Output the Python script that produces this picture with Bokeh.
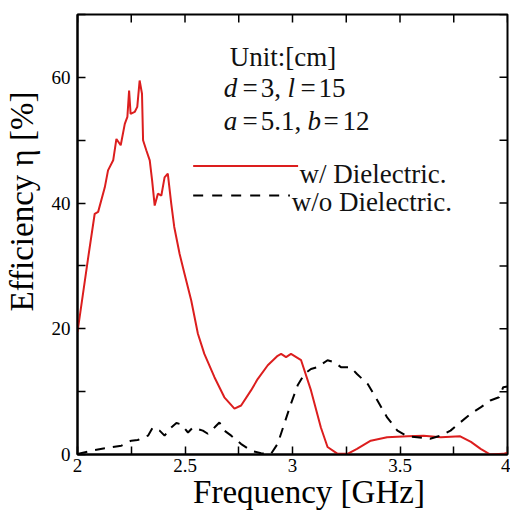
import math
from bokeh.plotting import figure
from bokeh.models import Range1d, FixedTicker, Label
from bokeh.embed import file_html
from bokeh.resources import INLINE

# ---- data ----
freq_with = [2.00, 2.05, 2.08, 2.096, 2.127, 2.142, 2.166, 2.181, 2.201, 2.22, 2.232, 2.24, 2.247,
             2.266, 2.278, 2.289, 2.30, 2.305, 2.32, 2.336, 2.347, 2.359, 2.374, 2.39, 2.405, 2.42,
             2.436, 2.45, 2.475, 2.498, 2.529, 2.56, 2.59, 2.637, 2.683, 2.73, 2.761, 2.807, 2.838,
             2.885, 2.931, 2.947, 2.97, 2.993, 3.008, 3.04, 3.086, 3.132, 3.163, 3.21, 3.256, 3.30,
             3.364, 3.44, 3.535, 3.61, 3.69, 3.78, 3.83, 3.875, 3.92, 3.98, 4.0]
eff_with = [19.5, 31.4, 38.3, 38.6, 42.5, 45.2, 46.8, 50.2, 49.2, 52.6, 53.7, 57.9, 54.2,
            54.5, 55.3, 59.5, 57.4, 50.0, 48.4, 46.8, 43.6, 39.6, 41.5, 41.2, 44.1, 44.7,
            39.9, 36.2, 31.9, 28.7, 24.5, 19.2, 16.0, 12.3, 9.1, 7.3, 7.8, 10.2, 12.0,
            14.2, 15.7, 16.0, 15.5, 16.0, 15.7, 15.0, 10.2, 4.3, 1.2, 0.1, 0.1, 0.9,
            2.2, 2.75, 2.9, 3.0, 2.75, 2.9, 2.0, 0.9, 0.0, 0.1, 0.3]

freq_without = [2.0, 2.065, 2.127, 2.204, 2.25, 2.28, 2.328, 2.35, 2.382, 2.405, 2.436, 2.46, 2.483,
                2.514, 2.537, 2.583, 2.606, 2.637, 2.66, 2.683, 2.715, 2.76, 2.807, 2.854, 2.9,
                2.931, 2.962, 2.993, 3.024, 3.055, 3.086, 3.117, 3.163, 3.194, 3.225, 3.27, 3.30,
                3.35, 3.395, 3.44, 3.488, 3.535, 3.58, 3.64, 3.69, 3.735, 3.78, 3.83, 3.875, 3.92,
                3.96, 3.98, 4.0]
eff_without = [0.1, 0.6, 1.0, 1.4, 2.2, 2.3, 3.0, 4.3, 3.8, 3.0, 4.3, 5.0, 4.8,
               3.5, 4.3, 3.8, 3.3, 4.3, 5.1, 3.8, 3.0, 1.7, 0.6, 0.2, 0.1,
               1.7, 4.9, 8.1, 11.0, 12.8, 13.6, 13.9, 15.0, 14.7, 13.9, 13.9, 12.8,
               11.2, 8.6, 5.9, 3.8, 2.9, 2.75, 2.5, 3.0, 3.8, 5.1, 6.5, 7.5, 8.6,
               9.1, 10.7, 10.8]

x_major = [2, 2.5, 3, 3.5, 4]
x_minor = [2.25, 2.75, 3.25, 3.75]
x_labels = ["2", "2.5", "3", "3.5", "4"]
y_major = [0, 20, 40, 60]
y_minor = [10, 30, 50, 70]

series_names = ["w/ Dielectric.", "w/o Dielectric."]
x_title = "Frequency [GHz]"
y_title = "Efficiency η [%]"

FONT = "Liberation Serif"
RED = "#dc1e1e"
NB = "\u00a0"

x_lo, x_hi = 2, 4
y_lo, y_hi = 0, 70

p = figure(width=510, height=512, output_backend="svg", toolbar_location=None,
           x_range=Range1d(x_lo, x_hi), y_range=Range1d(y_lo, y_hi),
           min_border_left=76, min_border_right=3, min_border_top=14, min_border_bottom=0)
p.xgrid.visible = False
p.ygrid.visible = False
p.outline_line_color = "black"
p.outline_line_width = 2
p.background_fill_color = "white"
p.border_fill_color = "white"

def style_axis(ax, ticks, minor):
    ax.ticker = FixedTicker(ticks=ticks, minor_ticks=minor)
    ax.major_tick_in = 8
    ax.major_tick_out = 0
    ax.minor_tick_in = 8
    ax.minor_tick_out = 0
    ax.major_tick_line_width = 1.5
    ax.minor_tick_line_width = 1.5
    ax.axis_line_width = 2
    ax.axis_line_color = "black"
    ax.major_tick_line_color = "black"
    ax.minor_tick_line_color = "black"
    ax.major_label_text_font = FONT
    ax.major_label_text_font_size = "19px"
    ax.major_label_text_color = "black"
    ax.axis_label_text_font = FONT
    ax.axis_label_text_font_size = "33px"
    ax.axis_label_text_font_style = "normal"
    ax.axis_label_text_color = "black"

xa = p.xaxis[0]
style_axis(xa, x_major, x_minor)
xa.major_label_overrides = {t: s for t, s in zip(x_major, x_labels)}
xa.major_label_standoff = 4
xa.axis_label = NB * 4 + x_title          # reference title sits right of centre
xa.axis_label_standoff = -1

ya = p.yaxis[0]
style_axis(ya, y_major, y_minor)
ya.major_label_standoff = 7
ya.axis_label = NB * 8 + y_title          # reference title sits above centre
ya.axis_label_standoff = 9

# inward ticks on the top and right edges of the frame
p.ray(x=x_major + x_minor, y=[y_hi] * 9, length=8, length_units="screen",
      angle=-math.pi / 2, line_color="black", line_width=1.5)
p.ray(x=[x_hi] * 8, y=y_major + y_minor, length=8, length_units="screen",
      angle=math.pi, line_color="black", line_width=1.5)

p.line(freq_with, eff_with, line_color=RED, line_width=2)
p.line(freq_without, eff_without, line_color="black", line_width=2, line_dash="10 8")

# legend drawn by hand
p.line([2.538, 3.026], [45.9, 45.9], line_color=RED, line_width=2)
p.line([2.538, 2.988], [41.2, 41.2], line_color="black", line_width=2, line_dash="10 9")
for name, xx, yb in zip(series_names, [3.033, 2.996], [44.7, 40.1]):
    p.add_layout(Label(x=xx, y=yb, text=name, text_font=FONT, text_font_size="27px",
                       text_baseline="alphabetic", text_color="#111111"))

# parameter annotation, token by token (italic symbols)
pieces = [
    ("Unit:[cm]", 2.708, 63.16, "normal"),
    ("d", 2.680, 58.38, "italic"),
    ("=", 2.768, 58.38, "normal"),
    ("3,", 2.852, 58.38, "normal"),
    ("l", 2.977, 58.38, "italic"),
    ("=", 3.037, 58.38, "normal"),
    ("15", 3.121, 58.38, "normal"),
    ("a", 2.680, 53.13, "italic"),
    ("=", 2.768, 53.13, "normal"),
    ("5.1,", 2.852, 53.13, "normal"),
    ("b", 3.070, 53.13, "italic"),
    ("=", 3.144, 53.13, "normal"),
    ("12", 3.232, 53.13, "normal"),
]
for txt, xx, yy, st in pieces:
    p.add_layout(Label(x=xx, y=yy, text=txt, text_font=FONT, text_font_size="27px",
                       text_font_style=st, text_baseline="alphabetic", text_color="#111111"))

open("out.html", "w").write(file_html(p, INLINE))
